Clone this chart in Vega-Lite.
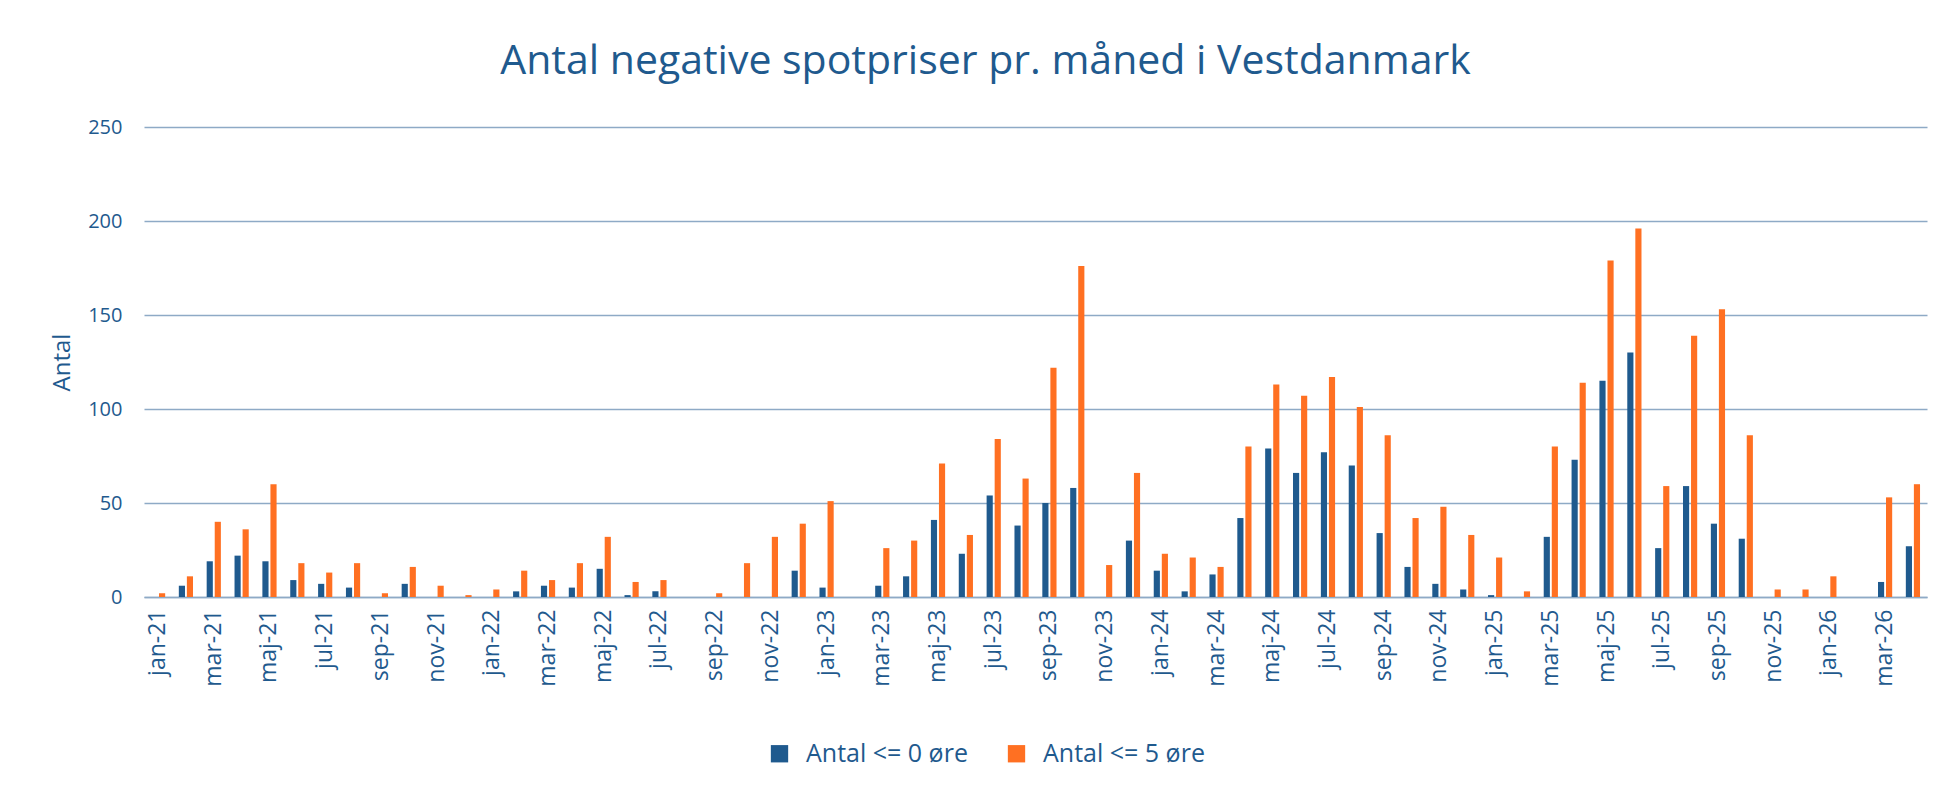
{
  "$schema": "https://vega.github.io/schema/vega-lite/v6.json",
  "autosize": {"type": "none"},
  "width": 1783,
  "height": 470,
  "padding": {"left": 144, "top": 127, "right": 22, "bottom": 198},
  "background": "white",
  "title": {
    "text": "Antal negative spotpriser pr. måned i Vestdanmark",
    "fontSize": 41,
    "font": "Open Sans",
    "fontWeight": "normal",
    "color": "#1F5A8E",
    "anchor": "middle",
    "frame": "group",
    "dx": -50,
    "offset": 34
  },
  "data": {
    "values": [
      {"m":"jan-21","s":"Antal <= 0 øre","v":0},{"m":"jan-21","s":"Antal <= 5 øre","v":2},
      {"m":"feb-21","s":"Antal <= 0 øre","v":6},{"m":"feb-21","s":"Antal <= 5 øre","v":11},
      {"m":"mar-21","s":"Antal <= 0 øre","v":19},{"m":"mar-21","s":"Antal <= 5 øre","v":40},
      {"m":"apr-21","s":"Antal <= 0 øre","v":22},{"m":"apr-21","s":"Antal <= 5 øre","v":36},
      {"m":"maj-21","s":"Antal <= 0 øre","v":19},{"m":"maj-21","s":"Antal <= 5 øre","v":60},
      {"m":"jun-21","s":"Antal <= 0 øre","v":9},{"m":"jun-21","s":"Antal <= 5 øre","v":18},
      {"m":"jul-21","s":"Antal <= 0 øre","v":7},{"m":"jul-21","s":"Antal <= 5 øre","v":13},
      {"m":"aug-21","s":"Antal <= 0 øre","v":5},{"m":"aug-21","s":"Antal <= 5 øre","v":18},
      {"m":"sep-21","s":"Antal <= 0 øre","v":0},{"m":"sep-21","s":"Antal <= 5 øre","v":2},
      {"m":"okt-21","s":"Antal <= 0 øre","v":7},{"m":"okt-21","s":"Antal <= 5 øre","v":16},
      {"m":"nov-21","s":"Antal <= 0 øre","v":0},{"m":"nov-21","s":"Antal <= 5 øre","v":6},
      {"m":"dec-21","s":"Antal <= 0 øre","v":0},{"m":"dec-21","s":"Antal <= 5 øre","v":1},
      {"m":"jan-22","s":"Antal <= 0 øre","v":0},{"m":"jan-22","s":"Antal <= 5 øre","v":4},
      {"m":"feb-22","s":"Antal <= 0 øre","v":3},{"m":"feb-22","s":"Antal <= 5 øre","v":14},
      {"m":"mar-22","s":"Antal <= 0 øre","v":6},{"m":"mar-22","s":"Antal <= 5 øre","v":9},
      {"m":"apr-22","s":"Antal <= 0 øre","v":5},{"m":"apr-22","s":"Antal <= 5 øre","v":18},
      {"m":"maj-22","s":"Antal <= 0 øre","v":15},{"m":"maj-22","s":"Antal <= 5 øre","v":32},
      {"m":"jun-22","s":"Antal <= 0 øre","v":1},{"m":"jun-22","s":"Antal <= 5 øre","v":8},
      {"m":"jul-22","s":"Antal <= 0 øre","v":3},{"m":"jul-22","s":"Antal <= 5 øre","v":9},
      {"m":"aug-22","s":"Antal <= 0 øre","v":0},{"m":"aug-22","s":"Antal <= 5 øre","v":0},
      {"m":"sep-22","s":"Antal <= 0 øre","v":0},{"m":"sep-22","s":"Antal <= 5 øre","v":2},
      {"m":"okt-22","s":"Antal <= 0 øre","v":0},{"m":"okt-22","s":"Antal <= 5 øre","v":18},
      {"m":"nov-22","s":"Antal <= 0 øre","v":0},{"m":"nov-22","s":"Antal <= 5 øre","v":32},
      {"m":"dec-22","s":"Antal <= 0 øre","v":14},{"m":"dec-22","s":"Antal <= 5 øre","v":39},
      {"m":"jan-23","s":"Antal <= 0 øre","v":5},{"m":"jan-23","s":"Antal <= 5 øre","v":51},
      {"m":"feb-23","s":"Antal <= 0 øre","v":0},{"m":"feb-23","s":"Antal <= 5 øre","v":0},
      {"m":"mar-23","s":"Antal <= 0 øre","v":6},{"m":"mar-23","s":"Antal <= 5 øre","v":26},
      {"m":"apr-23","s":"Antal <= 0 øre","v":11},{"m":"apr-23","s":"Antal <= 5 øre","v":30},
      {"m":"maj-23","s":"Antal <= 0 øre","v":41},{"m":"maj-23","s":"Antal <= 5 øre","v":71},
      {"m":"jun-23","s":"Antal <= 0 øre","v":23},{"m":"jun-23","s":"Antal <= 5 øre","v":33},
      {"m":"jul-23","s":"Antal <= 0 øre","v":54},{"m":"jul-23","s":"Antal <= 5 øre","v":84},
      {"m":"aug-23","s":"Antal <= 0 øre","v":38},{"m":"aug-23","s":"Antal <= 5 øre","v":63},
      {"m":"sep-23","s":"Antal <= 0 øre","v":50},{"m":"sep-23","s":"Antal <= 5 øre","v":122},
      {"m":"okt-23","s":"Antal <= 0 øre","v":58},{"m":"okt-23","s":"Antal <= 5 øre","v":176},
      {"m":"nov-23","s":"Antal <= 0 øre","v":0},{"m":"nov-23","s":"Antal <= 5 øre","v":17},
      {"m":"dec-23","s":"Antal <= 0 øre","v":30},{"m":"dec-23","s":"Antal <= 5 øre","v":66},
      {"m":"jan-24","s":"Antal <= 0 øre","v":14},{"m":"jan-24","s":"Antal <= 5 øre","v":23},
      {"m":"feb-24","s":"Antal <= 0 øre","v":3},{"m":"feb-24","s":"Antal <= 5 øre","v":21},
      {"m":"mar-24","s":"Antal <= 0 øre","v":12},{"m":"mar-24","s":"Antal <= 5 øre","v":16},
      {"m":"apr-24","s":"Antal <= 0 øre","v":42},{"m":"apr-24","s":"Antal <= 5 øre","v":80},
      {"m":"maj-24","s":"Antal <= 0 øre","v":79},{"m":"maj-24","s":"Antal <= 5 øre","v":113},
      {"m":"jun-24","s":"Antal <= 0 øre","v":66},{"m":"jun-24","s":"Antal <= 5 øre","v":107},
      {"m":"jul-24","s":"Antal <= 0 øre","v":77},{"m":"jul-24","s":"Antal <= 5 øre","v":117},
      {"m":"aug-24","s":"Antal <= 0 øre","v":70},{"m":"aug-24","s":"Antal <= 5 øre","v":101},
      {"m":"sep-24","s":"Antal <= 0 øre","v":34},{"m":"sep-24","s":"Antal <= 5 øre","v":86},
      {"m":"okt-24","s":"Antal <= 0 øre","v":16},{"m":"okt-24","s":"Antal <= 5 øre","v":42},
      {"m":"nov-24","s":"Antal <= 0 øre","v":7},{"m":"nov-24","s":"Antal <= 5 øre","v":48},
      {"m":"dec-24","s":"Antal <= 0 øre","v":4},{"m":"dec-24","s":"Antal <= 5 øre","v":33},
      {"m":"jan-25","s":"Antal <= 0 øre","v":1},{"m":"jan-25","s":"Antal <= 5 øre","v":21},
      {"m":"feb-25","s":"Antal <= 0 øre","v":0},{"m":"feb-25","s":"Antal <= 5 øre","v":3},
      {"m":"mar-25","s":"Antal <= 0 øre","v":32},{"m":"mar-25","s":"Antal <= 5 øre","v":80},
      {"m":"apr-25","s":"Antal <= 0 øre","v":73},{"m":"apr-25","s":"Antal <= 5 øre","v":114},
      {"m":"maj-25","s":"Antal <= 0 øre","v":115},{"m":"maj-25","s":"Antal <= 5 øre","v":179},
      {"m":"jun-25","s":"Antal <= 0 øre","v":130},{"m":"jun-25","s":"Antal <= 5 øre","v":196},
      {"m":"jul-25","s":"Antal <= 0 øre","v":26},{"m":"jul-25","s":"Antal <= 5 øre","v":59},
      {"m":"aug-25","s":"Antal <= 0 øre","v":59},{"m":"aug-25","s":"Antal <= 5 øre","v":139},
      {"m":"sep-25","s":"Antal <= 0 øre","v":39},{"m":"sep-25","s":"Antal <= 5 øre","v":153},
      {"m":"okt-25","s":"Antal <= 0 øre","v":31},{"m":"okt-25","s":"Antal <= 5 øre","v":86},
      {"m":"nov-25","s":"Antal <= 0 øre","v":0},{"m":"nov-25","s":"Antal <= 5 øre","v":4},
      {"m":"dec-25","s":"Antal <= 0 øre","v":0},{"m":"dec-25","s":"Antal <= 5 øre","v":4},
      {"m":"jan-26","s":"Antal <= 0 øre","v":0},{"m":"jan-26","s":"Antal <= 5 øre","v":11},
      {"m":"feb-26","s":"Antal <= 0 øre","v":0},{"m":"feb-26","s":"Antal <= 5 øre","v":0},
      {"m":"mar-26","s":"Antal <= 0 øre","v":8},{"m":"mar-26","s":"Antal <= 5 øre","v":53},
      {"m":"apr-26","s":"Antal <= 0 øre","v":27},{"m":"apr-26","s":"Antal <= 5 øre","v":60}
    ]
  },
  "mark": {"type": "bar"},
  "encoding": {
    "x": {
      "field": "m",
      "type": "nominal",
      "sort": null,
      "scale": {"paddingInner": 0.49, "paddingOuter": 0.25},
      "axis": {
        "title": null,
        "values": ["jan-21","mar-21","maj-21","jul-21","sep-21","nov-21","jan-22","mar-22","maj-22","jul-22","sep-22","nov-22","jan-23","mar-23","maj-23","jul-23","sep-23","nov-23","jan-24","mar-24","maj-24","jul-24","sep-24","nov-24","jan-25","mar-25","maj-25","jul-25","sep-25","nov-25","jan-26","mar-26"],
        "labelAngle": -90,
        "labelAlign": "right",
        "labelBaseline": "middle",
        "labelFontSize": 23,
        "labelFont": "Open Sans",
        "labelColor": "#1F5A8E",
        "labelPadding": 12,
        "ticks": false,
        "domain": true,
        "domainColor": "#8EAAC6",
        "domainWidth": 1.5,
        "grid": false
      }
    },
    "xOffset": {
      "field": "s",
      "type": "nominal",
      "scale": {"paddingInner": 0.235, "paddingOuter": 0}
    },
    "y": {
      "field": "v",
      "type": "quantitative",
      "scale": {"domain": [0, 250], "nice": false},
      "axis": {
        "title": "Antal",
        "titleFontSize": 24,
        "titleFont": "Open Sans",
        "titleFontWeight": "normal",
        "titleColor": "#1F5A8E",
        "titleAngle": -90,
        "titleX": -82,
        "titleY": 235,
        "titleAlign": "center",
        "titleBaseline": "middle",
        "values": [0, 50, 100, 150, 200, 250],
        "labelFontSize": 20,
        "labelFont": "Open Sans",
        "labelColor": "#1F5A8E",
        "labelPadding": 22,
        "ticks": false,
        "domain": false,
        "grid": true,
        "gridColor": "#8EAAC6",
        "gridWidth": 1.5
      }
    },
    "color": {
      "field": "s",
      "type": "nominal",
      "scale": {"domain": ["Antal <= 0 øre", "Antal <= 5 øre"], "range": ["#1F5A8E", "#FF7022"]},
      "legend": {
        "title": null,
        "orient": "none",
        "direction": "horizontal",
        "legendX": 623,
        "legendY": 614,
        "symbolType": "square",
        "symbolSize": 300,
        "symbolStrokeWidth": 0,
        "labelFontSize": 25,
        "labelFont": "Open Sans",
        "labelColor": "#1F5A8E",
        "labelOffset": 14,
        "labelLimit": 400,
        "columnPadding": 36
      }
    }
  },
  "config": {
    "view": {"stroke": null}
  }
}
